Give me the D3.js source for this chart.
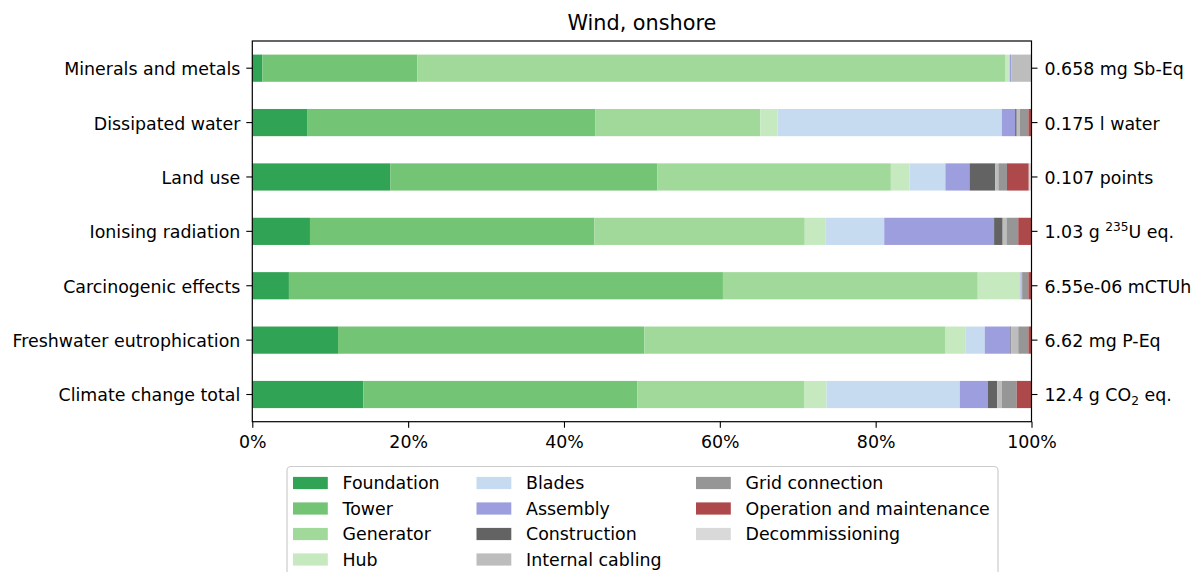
<!DOCTYPE html>
<html>
<head>
<meta charset="utf-8">
<script src="https://cdn.jsdelivr.net/npm/d3@7"></script>
<style>
  html, body { margin: 0; padding: 0; background: #fff; }
  svg { display: block; font-family: "DejaVu Sans", sans-serif; }
</style>
</head>
<body>
<svg id="chart" width="1198" height="572"></svg>
<script>
// ---------------- data ----------------
const categories = ["Minerals and metals", "Dissipated water", "Land use", "Ionising radiation",
  "Carcinogenic effects", "Freshwater eutrophication", "Climate change total"];
const totals = ["0.658 mg Sb-Eq", "0.175 l water", "0.107 points", "1.03 g ²³⁵U eq.",
  "6.55e-06 mCTUh", "6.62 mg P-Eq", "12.4 g CO₂ eq."];
const components = ["Foundation", "Tower", "Generator", "Hub", "Blades", "Assembly",
  "Construction", "Internal cabling", "Grid connection", "Operation and maintenance", "Decommissioning"];
const colors = ["#31a354", "#74c476", "#a1d99b", "#c7e9c0", "#c6dbef", "#9c9ede",
  "#636363", "#bdbdbd", "#969696", "#ad494a", "#d9d9d9"];

// shares in percent, one value per category (same order as categories)
const foundation      = [1.3, 7.1, 17.7, 7.4, 4.7, 11.0, 14.25];
const tower           = [19.9, 36.9, 34.3, 36.5, 55.7, 39.3, 35.15];
const generator       = [75.4, 21.2, 29.95, 27.0, 32.7, 38.6, 21.4];
const hub             = [0.5, 2.2, 2.4, 2.7, 5.3, 2.6, 2.9];
const blades          = [0.1, 28.8, 4.6, 7.5, 0.2, 2.5, 17.1];
const assembly        = [0.2, 1.7, 3.1, 14.1, 0.05, 3.3, 3.6];
const construction    = [0.0, 0.2, 3.3, 1.1, 0.05, 0.1, 1.2];
const internalCabling = [2.5, 0.4, 0.4, 0.5, 0.1, 0.9, 0.6];
const gridConnection  = [0.1, 1.1, 1.1, 1.5, 0.8, 1.3, 1.9];
const operation       = [0.0, 0.4, 2.8, 1.7, 0.4, 0.4, 1.9];
const decommissioning = [0.0, 0.0, 0.35, 0.0, 0.0, 0.0, 0.0];

const xTicks = [0, 20, 40, 60, 80, 100];

// ---------------- build table ----------------
const seriesArrays = [foundation, tower, generator, hub, blades, assembly, construction,
  internalCabling, gridConnection, operation, decommissioning];
const table = categories.map((c, i) => {
  const row = { category: c };
  components.forEach((k, j) => row[k] = seriesArrays[j][i]);
  return row;
});
const stacked = d3.stack().keys(components)(table);

// ---------------- layout ----------------
const svg = d3.select("#chart");
const pL = 252.3, pR = 1031.5, pT = 41, pB = 421.7;
const FS = 17.4;

const x = d3.scaleLinear().domain([0, 100]).range([pL, pR]);
const y = d3.scaleBand().domain(categories).range([pT, pB]).paddingInner(0.5).paddingOuter(0.25);
const color = d3.scaleOrdinal().domain(components).range(colors);

// bars
svg.append("g").selectAll("g").data(stacked).join("g")
  .attr("fill", d => color(d.key))
  .selectAll("rect").data(d => d).join("rect")
  .attr("x", d => x(d[0]))
  .attr("y", d => y(d.data.category))
  .attr("width", d => Math.max(0, x(d[1]) - x(d[0])))
  .attr("height", y.bandwidth());

// axes
const tickW = 1.1;
const xAxis = svg.append("g").attr("transform", `translate(0,${pB})`)
  .call(d3.axisBottom(x).tickValues(xTicks).tickFormat(d => d + "%").tickSize(6).tickPadding(7));
const yAxis = svg.append("g").attr("transform", `translate(${pL},0)`)
  .call(d3.axisLeft(y).tickSize(6).tickPadding(6));
const yAxisR = svg.append("g").attr("transform", `translate(${pR},0)`)
  .call(d3.axisRight(y).tickSize(6).tickPadding(7));

[xAxis, yAxis, yAxisR].forEach(a => {
  a.select(".domain").remove();
  a.selectAll(".tick line").attr("stroke", "#000").attr("stroke-width", tickW);
  a.selectAll("text").attr("font-size", FS).attr("fill", "#000").attr("font-family", "DejaVu Sans");
});
xAxis.selectAll("text").attr("dy", "0.75em");
yAxis.selectAll("text").attr("dy", "0.4em");

// right labels with sub/superscripts
yAxisR.selectAll(".tick").each(function(d, i) {
  const t = d3.select(this).select("text").attr("dy", "0.4em").text(null);
  const lab = totals[i];
  const m = lab.match(/^(.*?)([²³⁵]+|₂)(.*)$/);
  if (!m) { t.text(lab); return; }
  const supMap = { "²": "2", "³": "3", "⁵": "5" };
  const isSup = m[2] !== "₂";
  const digits = isSup ? m[2].split("").map(c => supMap[c]).join("") : "2";
  t.append("tspan").text(m[1]);
  t.append("tspan").attr("font-size", FS * 0.7).attr("dy", isSup ? -7 : 4).text(digits);
  t.append("tspan").attr("dy", isSup ? 7 : -4).text(m[3]);
});

// frame
svg.append("rect").attr("x", pL).attr("y", pT)
  .attr("width", pR - pL).attr("height", pB - pT)
  .attr("fill", "none").attr("stroke", "#000").attr("stroke-width", 1.2);

// title
svg.append("text").attr("x", (pL + pR) / 2).attr("y", 29.5)
  .attr("text-anchor", "middle").attr("font-size", 20.8).attr("fill", "#000")
  .text("Wind, onshore");

// legend
const lg = svg.append("g");
lg.append("rect").attr("x", 287).attr("y", 466.5).attr("width", 711).attr("height", 120)
  .attr("rx", 4).attr("fill", "#fff").attr("fill-opacity", 0.8)
  .attr("stroke", "#cccccc").attr("stroke-width", 1.2);
const colX = [293, 476.5, 696];
const rowY0 = 483, rowStep = 25.5;
components.forEach((k, i) => {
  const c = Math.floor(i / 4), r = i % 4;
  const g = lg.append("g").attr("transform", `translate(${colX[c]},${rowY0 + r * rowStep})`);
  g.append("rect").attr("x", 0).attr("y", -6.1).attr("width", 34.8).attr("height", 12.2)
    .attr("fill", color(k));
  g.append("text").attr("x", 49.5).attr("y", 0).attr("dy", "0.35em")
    .attr("font-size", FS).attr("fill", "#000").text(k);
});
</script>
</body>
</html>
